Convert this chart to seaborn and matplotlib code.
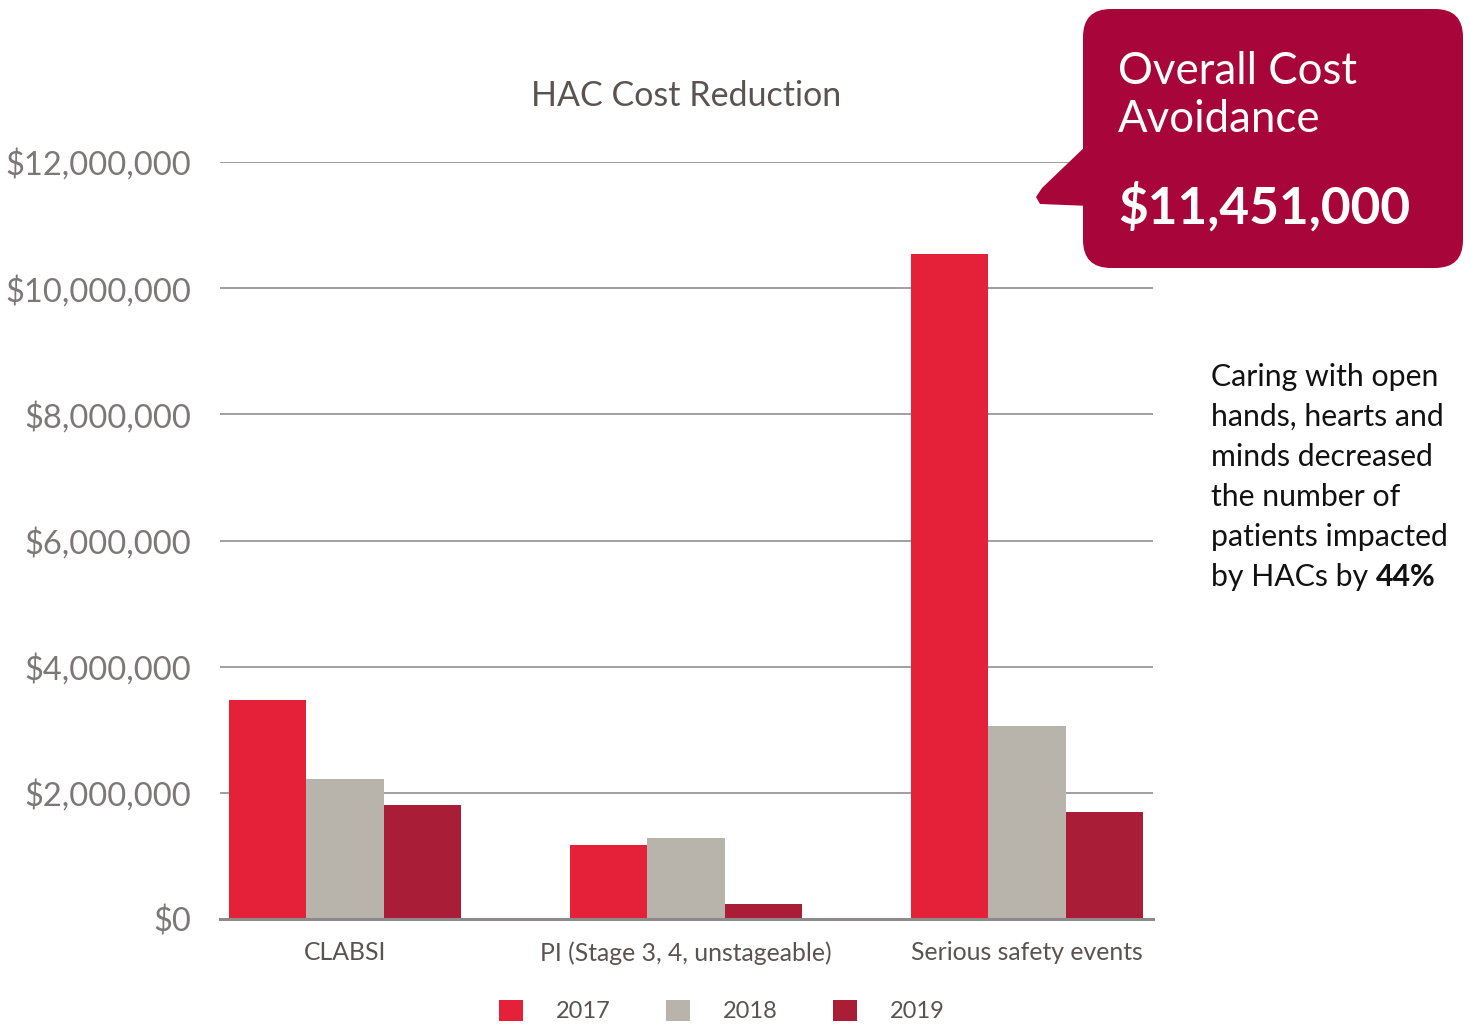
import pandas as pd
import matplotlib.pyplot as plt
import seaborn as sns
from matplotlib.patches import FancyBboxPatch, Polygon
from matplotlib.ticker import FuncFormatter

# Data
categories = ['CLABSI', 'PI (Stage 3, 4, unstageable)', 'Serious safety events']
years = ['2017', '2018', '2019']
cost_2017 = [3470000, 1170000, 10540000]
cost_2018 = [2220000, 1290000, 3060000]
cost_2019 = [1810000, 240000, 1700000]
yticks = [0, 2000000, 4000000, 6000000, 8000000, 10000000, 12000000]

rows = []
for yr, vals in zip(years, [cost_2017, cost_2018, cost_2019]):
    for cat, v in zip(categories, vals):
        rows.append({'Category': cat, 'Year': yr, 'Cost': v})
df = pd.DataFrame(rows)

palette = {'2017': '#E42138', '2018': '#B8B3AB', '2019': '#AA1D37'}
grey_text = '#5A5352'

sns.set_theme(style='white')
plt.rcParams['font.family'] = ['Lato', 'DejaVu Sans']

fig = plt.figure(figsize=(14.7, 10.26), dpi=100)
ax = fig.add_axes([220 / 1470, 1 - 919 / 1026, (1153 - 220) / 1470, (919 - 162) / 1026])

sns.barplot(data=df, x='Category', y='Cost', hue='Year', palette=palette,
            width=0.68, saturation=1, ax=ax, errorbar=None, linewidth=0)

ax.set_ylim(0, 12000000)
ax.set_xlim(-0.367, 2.37)
ax.set_yticks(yticks)
ax.yaxis.set_major_formatter(FuncFormatter(lambda v, p: '${:,.0f}'.format(v)))
ax.grid(axis='y', color='#9A9696', linewidth=1.3)
ax.set_axisbelow(True)
for s in ['top', 'right', 'left']:
    ax.spines[s].set_visible(False)
ax.spines['bottom'].set_color('#8E8A8A')
ax.spines['bottom'].set_linewidth(2.2)
ax.tick_params(axis='y', labelsize=23.5, labelcolor='#7D7878', length=0, pad=21)
ax.tick_params(axis='x', labelsize=17.8, labelcolor=grey_text, length=0, pad=16)
ax.set_xlabel('')
ax.set_ylabel('')
ax.set_title('HAC Cost Reduction', fontsize=24.5, color=grey_text, pad=40)

handles, labels = ax.get_legend_handles_labels()
ax.get_legend().remove()
fig.legend(handles, labels, loc='lower center', bbox_to_anchor=(0.491, -0.017), ncol=3,
           frameon=False, fontsize=17, handlelength=1.0, handleheight=1.0,
           handletextpad=1.4, columnspacing=2.35, labelcolor=grey_text)

# Overlay in pixel coordinates for the callout
ov = fig.add_axes([0, 0, 1, 1], zorder=5)
ov.set_xlim(0, 1470)
ov.set_ylim(1026, 0)
ov.axis('off')
box_col = '#A8063A'
ov.add_patch(FancyBboxPatch((1083 + 28, 9 + 28), 380 - 56, 259 - 56,
                            boxstyle='round,pad=28', facecolor=box_col, edgecolor='none'))
ov.add_patch(Polygon([(1090, 142), (1042, 188), (1036, 197), (1040, 204), (1090, 206)],
                     closed=True, facecolor=box_col, edgecolor='none'))
ov.text(1118, 72, 'Overall Cost', color='white', fontsize=31.5, va='center', ha='left')
ov.text(1118, 119, 'Avoidance', color='white', fontsize=31.5, va='center', ha='left')
ov.text(1118, 207, '$11,451,000', color='white', fontsize=37, fontweight='bold',
        va='center', ha='left')

side_lines = ['Caring with open', 'hands, hearts and', 'minds decreased',
              'the number of', 'patients impacted']
for i, line in enumerate(side_lines):
    ov.text(1211, 377 + 40 * i, line, fontsize=21.8, color='#111111', va='center', ha='left')
t = ov.text(1211, 377 + 40 * 5, 'by HACs by ', fontsize=21.8, color='#111111',
            va='center', ha='left')
ov.annotate('44%', xy=(1, 0), xycoords=t, fontsize=21.8, color='#111111',
            fontweight='bold', va='bottom', ha='left')

fig.savefig('out.png', dpi=100)
